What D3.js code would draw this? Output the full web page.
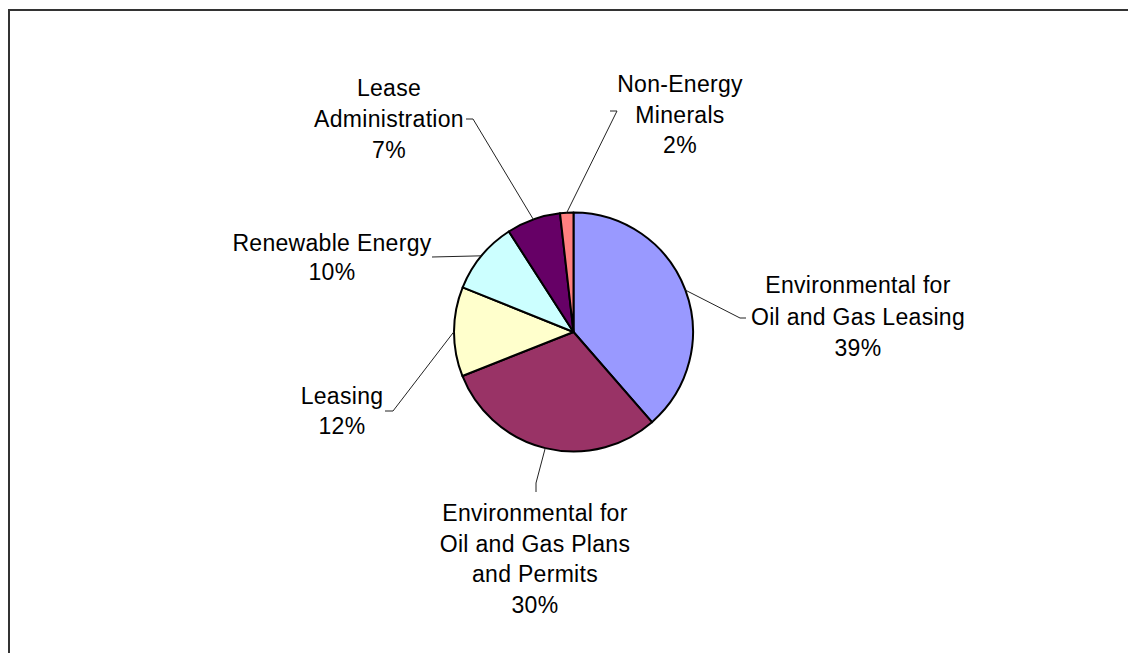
<!DOCTYPE html>
<html>
<head>
<meta charset="utf-8">
<script src="https://cdn.jsdelivr.net/npm/d3@7"></script>
<style>
  html, body { margin: 0; padding: 0; background: #fff; }
  svg { display: block; }
  text { font-family: "Liberation Sans", Arial, sans-serif; font-size: 23px; letter-spacing: 0.3px; fill: #000; }
</style>
</head>
<body>
<div id="chart"></div>
<script>
// Slice data, clockwise from 12 o'clock
const categories = [
  'Environmental for Oil and Gas Leasing',
  'Environmental for Oil and Gas Plans and Permits',
  'Leasing',
  'Renewable Energy',
  'Lease Administration',
  'Non-Energy Minerals'
];
const values = [38.6, 30.4, 12.1, 9.8, 7.3, 1.8];
// how each label is broken into lines
const labelLines = [
  ['Environmental for', 'Oil and Gas Leasing'],
  ['Environmental for', 'Oil and Gas Plans', 'and Permits'],
  ['Leasing'],
  ['Renewable Energy'],
  ['Lease', 'Administration'],
  ['Non-Energy', 'Minerals']
];
const colors = ['#9999FF', '#993366', '#FFFFCC', '#CCFFFF', '#660066', '#FF8080'];

// Label layout: centre x, first baseline, line step, leader elbow + end
const layout = [
  { x: 858, y: 293, step: 31.5, elbow: [740, 318], end: [746, 318] },
  { x: 535, y: 521, step: 30.7, elbow: [536, 483], end: [536, 492] },
  { x: 342, y: 404, step: 29.5, elbow: [393, 411], end: [385, 411] },
  { x: 332, y: 251, step: 29,   elbow: [432, 257], end: [432, 257] },
  { x: 389, y: 96,  step: 31,   elbow: [473, 119], end: [466, 119] },
  { x: 680, y: 92,  step: 30.5, elbow: [617, 111], end: [610, 111] }
];

const w = 1128, h = 653;
const cx = 573.5, cy = 332, radius = 119.5;

const svg = d3.select('#chart')
  .append('svg')
  .attr('width', w)
  .attr('height', h);

// outer frame (runs off right and bottom edges)
svg.append('rect')
  .attr('x', 9)
  .attr('y', 10)
  .attr('width', 1200)
  .attr('height', 700)
  .attr('fill', 'none')
  .attr('stroke', '#333')
  .attr('stroke-width', 2);

const pie = d3.pie().sort(null).value(d => d);
const arcs = pie(values);

const arc = d3.arc().innerRadius(0).outerRadius(radius);
const edgeArc = d3.arc().innerRadius(radius).outerRadius(radius);

const g = svg.append('g').attr('transform', `translate(${cx},${cy})`);

g.selectAll('path.slice')
  .data(arcs)
  .enter()
  .append('path')
  .attr('class', 'slice')
  .attr('d', arc)
  .attr('fill', (d, i) => colors[i])
  .attr('stroke', '#000')
  .attr('stroke-width', 2)
  .attr('stroke-linejoin', 'round');

// Leader lines from slice edge midpoint to label
svg.selectAll('polyline.leader')
  .data(arcs)
  .enter()
  .append('polyline')
  .attr('class', 'leader')
  .attr('points', (d, i) => {
    const [ex, ey] = edgeArc.centroid(d);
    const L = layout[i];
    return [[cx + ex, cy + ey], L.elbow, L.end].map(p => p.join(',')).join(' ');
  })
  .attr('fill', 'none')
  .attr('stroke', '#222')
  .attr('stroke-width', 1);

// Labels
const labels = svg.selectAll('text.label')
  .data(arcs)
  .enter()
  .append('text')
  .attr('class', 'label')
  .attr('text-anchor', 'middle');

labels.each(function(d, i) {
  const L = layout[i];
  const lines = labelLines[i].concat([Math.round(d.data) + '%']);
  d3.select(this).selectAll('tspan')
    .data(lines)
    .enter()
    .append('tspan')
    .attr('x', L.x)
    .attr('y', (t, j) => L.y + j * L.step)
    .text(t => t);
});
</script>
</body>
</html>
